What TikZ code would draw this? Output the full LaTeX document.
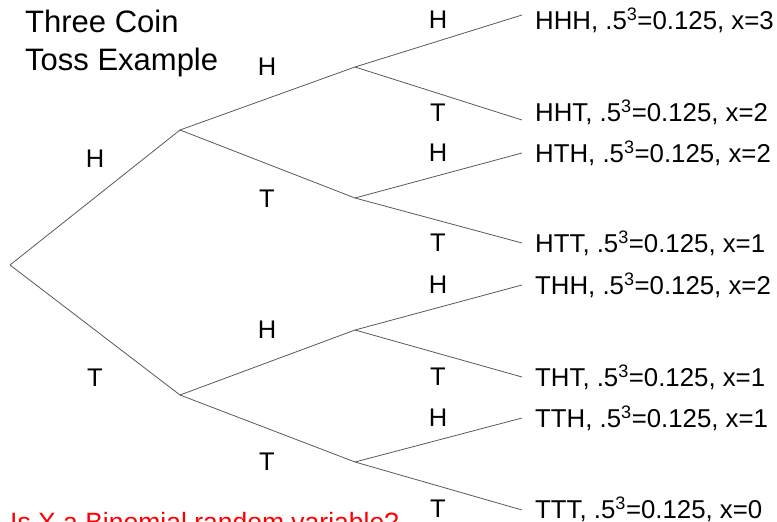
\documentclass[tikz,border=0pt]{standalone}
\usepackage{fontspec}
\setmainfont{Liberation Sans}
\begin{document}
\begin{tikzpicture}[x=1pt,y=-1pt,
  branch/.style={draw=black!65, line width=0.8pt},
  lbl/.style={font=\fontsize{25.5}{28}\selectfont, inner sep=0pt},
  leaf/.style={font=\fontsize{25.8}{28}\selectfont, anchor=west, inner sep=0pt},
  title/.style={font=\fontsize{31}{38}\selectfont, anchor=north west, inner sep=0pt, align=left}]
\useasboundingbox (0,0) rectangle (777,522);
% tree points
\coordinate (r) at (10,265);
\coordinate (h) at (180,130);
\coordinate (t) at (180,395);
\coordinate (hh) at (355,67);
\coordinate (ht) at (355,198);
\coordinate (th) at (355,330);
\coordinate (tt) at (355,462);
\coordinate (hhh) at (522,15);
\coordinate (hht) at (522,120);
\coordinate (hth) at (522,153);
\coordinate (htt) at (522,243);
\coordinate (thh) at (522,285);
\coordinate (tht) at (522,377);
\coordinate (tth) at (522,418);
\coordinate (ttt) at (522,510);
\draw[branch] (r) -- (h); \draw[branch] (r) -- (t);
\draw[branch] (h) -- (hh); \draw[branch] (h) -- (ht);
\draw[branch] (t) -- (th); \draw[branch] (t) -- (tt);
\draw[branch] (hh) -- (hhh); \draw[branch] (hh) -- (hht);
\draw[branch] (ht) -- (hth); \draw[branch] (ht) -- (htt);
\draw[branch] (th) -- (thh); \draw[branch] (th) -- (tht);
\draw[branch] (tt) -- (tth); \draw[branch] (tt) -- (ttt);
% title
\node[title] (ttl) at (25,10) {Three Coin\\Toss Example};
% branch labels
\node[lbl] (l1) at (95,159) {H};
\node[lbl] (l2) at (95,378) {T};
\node[lbl] (l3) at (267,67) {H};
\node[lbl] (l4) at (267,199) {T};
\node[lbl] (l5) at (267,330) {H};
\node[lbl] (l6) at (267,462) {T};
\node[lbl] (l7) at (438,20) {H};
\node[lbl] (l8) at (438,113) {T};
\node[lbl] (l9) at (438,153) {H};
\node[lbl] (l10) at (438,243) {T};
\node[lbl] (l11) at (438,285) {H};
\node[lbl] (l12) at (438,377) {T};
\node[lbl] (l13) at (438,418) {H};
\node[lbl] (l14) at (438,509) {T};
% leaf labels
\node[leaf] (o1) at (535,20) {HHH, .5\textsuperscript{3}=0.125, x=3};
\node[leaf] (o2) at (535,112) {HHT, .5\textsuperscript{3}=0.125, x=2};
\node[leaf] (o3) at (535,153) {HTH, .5\textsuperscript{3}=0.125, x=2};
\node[leaf] (o4) at (535,243) {HTT, .5\textsuperscript{3}=0.125, x=1};
\node[leaf] (o5) at (535,285) {THH, .5\textsuperscript{3}=0.125, x=2};
\node[leaf] (o6) at (535,377) {THT, .5\textsuperscript{3}=0.125, x=1};
\node[leaf] (o7) at (535,418) {TTH, .5\textsuperscript{3}=0.125, x=1};
\node[leaf] (o8) at (535,509) {TTT, .5\textsuperscript{3}=0.125, x=0};
% question
\node[font=\fontsize{26.5}{30}\selectfont, text=red, anchor=base west, inner sep=0pt] (q) at (10,531) {Is X a Binomial random variable?};
\end{tikzpicture}
\end{document}
